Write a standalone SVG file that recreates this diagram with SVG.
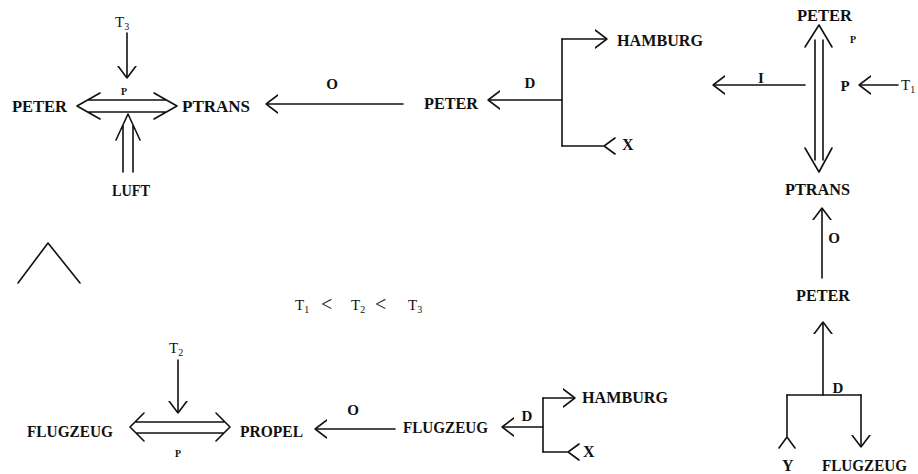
<svg xmlns="http://www.w3.org/2000/svg" width="918" height="474" viewBox="0 0 918 474">
<style>
  text { font-family: "Liberation Serif", "DejaVu Serif", serif; fill: #111; }
  .n { font-size: 16px; font-weight: bold; }
  .s { font-size: 10px; font-weight: bold; }
  .l { font-size: 15px; font-weight: bold; }
  .t { font-size: 15px; }
  .sub { font-size: 10px; }
  .lt { font-size: 20px; }
  .c { fill: none; stroke: #111; stroke-width: 1.6; stroke-linecap: round; stroke-linejoin: round; }
</style>
<defs>
  <marker id="arr" viewBox="0 0 12 20" refX="12" refY="10" markerWidth="12" markerHeight="20" markerUnits="userSpaceOnUse" orient="auto">
    <path d="M0,1 L12,10 L0,19" fill="none" stroke="#111" stroke-width="1.6" stroke-linecap="round" stroke-linejoin="round"/>
  </marker>
  <marker id="fork" viewBox="0 0 12 20" refX="0" refY="10" markerWidth="12" markerHeight="20" markerUnits="userSpaceOnUse" orient="auto">
    <path d="M11,2 L0,10 L11,18" fill="none" stroke="#111" stroke-width="1.6" stroke-linecap="round" stroke-linejoin="round"/>
  </marker>
</defs>
<rect width="918" height="474" fill="#fff"/>

<g id="connectors">
  <!-- top-left -->
  <line class="c" x1="127" y1="33" x2="127" y2="78" marker-end="url(#arr)"/>
  <path class="c" d="M88,100 H166 M88,112 H166 M100,93 L77,106 L100,119 M154,93 L177,106 L154,119"/>
  <path class="c" d="M123,172 V125 M133,172 V125 M116,140 L128,114 L140,140"/>
  <line class="c" x1="403" y1="104" x2="266" y2="104" marker-end="url(#arr)"/>
  <line class="c" x1="562" y1="100" x2="488" y2="100" marker-end="url(#arr)"/>
  <line class="c" x1="562" y1="39" x2="607" y2="39" marker-end="url(#arr)"/>
  <line class="c" x1="562" y1="39" x2="562" y2="146"/>
  <line class="c" x1="562" y1="146" x2="604" y2="146" marker-end="url(#fork)"/>
  <!-- top-right -->
  <line class="c" x1="805" y1="85" x2="713" y2="85" marker-end="url(#arr)"/>
  <line class="c" x1="898" y1="85" x2="859" y2="85" marker-end="url(#arr)"/>
  <path class="c" d="M815,40 V160 M823,40 V160 M805,47 L819,25 L832,47 M805,148 L819,172 L832,148"/>
  <line class="c" x1="822" y1="278" x2="822" y2="208" marker-end="url(#arr)"/>
  <line class="c" x1="823" y1="395" x2="823" y2="322" marker-end="url(#arr)"/>
  <line class="c" x1="787" y1="395" x2="861" y2="395"/>
  <line class="c" x1="787" y1="395" x2="787" y2="437" marker-end="url(#fork)"/>
  <line class="c" x1="861" y1="395" x2="861" y2="447" marker-end="url(#arr)"/>
  <!-- bottom -->
  <line class="c" x1="178" y1="360" x2="178" y2="413" marker-end="url(#arr)"/>
  <path class="c" d="M135,422 H225 M136,433 H224 M144,413 L130,427 L144,441 M216,413 L230,427 L216,441"/>
  <line class="c" x1="395" y1="429" x2="315" y2="429" marker-end="url(#arr)"/>
  <line class="c" x1="543" y1="427" x2="502" y2="427" marker-end="url(#arr)"/>
  <line class="c" x1="543" y1="398" x2="575" y2="398" marker-end="url(#arr)"/>
  <line class="c" x1="543" y1="398" x2="543" y2="452"/>
  <line class="c" x1="543" y1="452" x2="568" y2="452" marker-end="url(#fork)"/>
  <!-- connector labels -->
  <text class="s" x="124" y="95" text-anchor="middle">P</text>
  <text class="l" x="332" y="89" text-anchor="middle">O</text>
  <text class="l" x="530" y="88" text-anchor="middle">D</text>
  <text class="s" x="853" y="43" text-anchor="middle">P</text>
  <text class="l" x="845" y="91" text-anchor="middle">P</text>
  <text class="l" x="761" y="83" text-anchor="middle">I</text>
  <text class="l" x="834" y="243" text-anchor="middle">O</text>
  <text class="l" x="838" y="393" text-anchor="middle">D</text>
  <text class="s" x="178" y="457" text-anchor="middle">P</text>
  <text class="l" x="353" y="415" text-anchor="middle">O</text>
  <text class="l" x="527" y="421" text-anchor="middle">D</text>
</g>

<g id="n-t3-top"><text class="t" x="115" y="27">T<tspan class="sub" dy="3">3</tspan></text></g>
<g id="n-peter-1"><text class="n" x="12" y="112" textLength="55" lengthAdjust="spacingAndGlyphs">PETER</text></g>
<g id="n-ptrans-1"><text class="n" x="182" y="112" textLength="68" lengthAdjust="spacingAndGlyphs">PTRANS</text></g>
<g id="n-luft"><text class="n" x="112" y="196" textLength="38" lengthAdjust="spacingAndGlyphs">LUFT</text></g>
<g id="n-peter-2"><text class="n" x="424" y="109" textLength="54" lengthAdjust="spacingAndGlyphs">PETER</text></g>
<g id="n-hamburg-1"><text class="n" x="617" y="46" textLength="86" lengthAdjust="spacingAndGlyphs">HAMBURG</text></g>
<g id="n-x-1"><text class="n" x="622" y="150">X</text></g>
<g id="n-peter-3"><text class="n" x="797" y="21" textLength="55" lengthAdjust="spacingAndGlyphs">PETER</text></g>
<g id="n-t1-right"><text class="t" x="901" y="90">T<tspan class="sub" dy="3">1</tspan></text></g>
<g id="n-ptrans-2"><text class="n" x="785" y="195" textLength="65" lengthAdjust="spacingAndGlyphs">PTRANS</text></g>
<g id="n-peter-4"><text class="n" x="796" y="301" textLength="54" lengthAdjust="spacingAndGlyphs">PETER</text></g>
<g id="n-y"><text class="n" x="782" y="471">Y</text></g>
<g id="n-flugzeug-3"><text class="n" x="822" y="471" textLength="85" lengthAdjust="spacingAndGlyphs">FLUGZEUG</text></g>

<g id="n-and"><path class="c" d="M18,283 L48,243 L80,283"/></g>
<g id="n-order">
  <text class="t" x="295" y="310">T<tspan class="sub" dy="3">1</tspan></text>
  <text class="lt" x="321" y="311">&lt;</text>
  <text class="t" x="351" y="310">T<tspan class="sub" dy="3">2</tspan></text>
  <text class="lt" x="375" y="311">&lt;</text>
  <text class="t" x="408" y="310">T<tspan class="sub" dy="3">3</tspan></text>
</g>
<g id="n-t2-bottom"><text class="t" x="169" y="353">T<tspan class="sub" dy="3">2</tspan></text></g>
<g id="n-flugzeug-1"><text class="n" x="27" y="437" textLength="86" lengthAdjust="spacingAndGlyphs">FLUGZEUG</text></g>
<g id="n-propel"><text class="n" x="240" y="437" textLength="63" lengthAdjust="spacingAndGlyphs">PROPEL</text></g>
<g id="n-flugzeug-2"><text class="n" x="403" y="433" textLength="85" lengthAdjust="spacingAndGlyphs">FLUGZEUG</text></g>
<g id="n-hamburg-2"><text class="n" x="582" y="403" textLength="86" lengthAdjust="spacingAndGlyphs">HAMBURG</text></g>
<g id="n-x-2"><text class="n" x="583" y="457">X</text></g>
</svg>
